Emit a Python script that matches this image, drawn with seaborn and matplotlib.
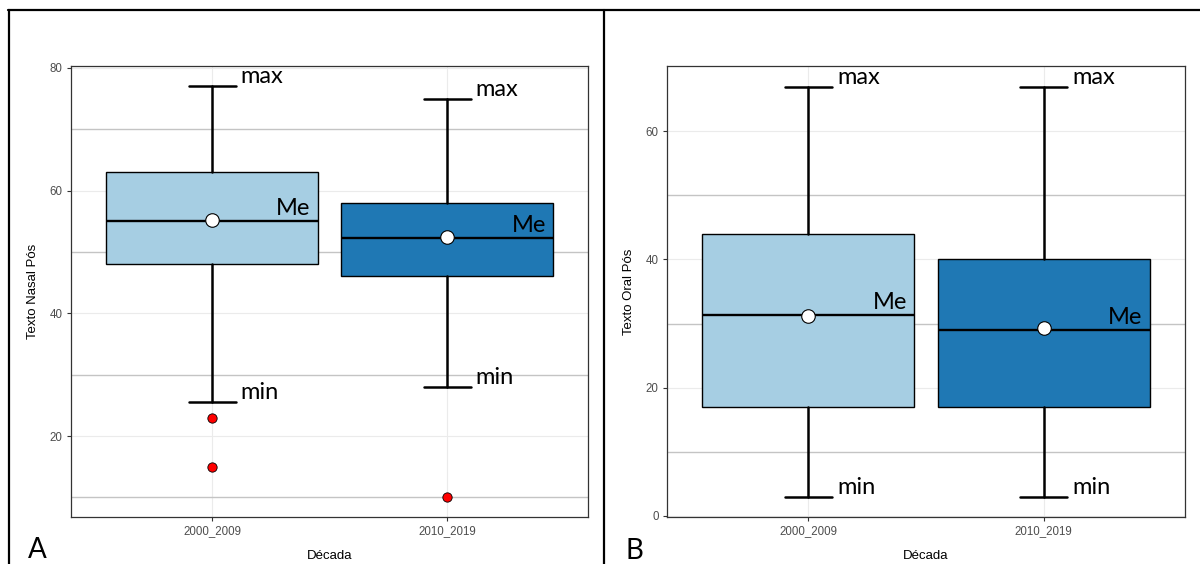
import matplotlib.pyplot as plt
import seaborn as sns
from matplotlib.lines import Line2D

decadas = ["2000_2009", "2010_2019"]
cores = ["#A6CEE3", "#1F78B4"]

# Texto Nasal Pós (painel A)
nasal_min = [25.5, 28]
nasal_q1 = [48, 46]
nasal_med = [55, 52.2]
nasal_q3 = [63, 58]
nasal_max = [77, 75]
nasal_media = [55.2, 52.5]
nasal_out_dec = ["2000_2009", "2000_2009", "2010_2019"]
nasal_out_val = [23, 15, 10]

# Texto Oral Pós (painel B)
oral_min = [3, 3]
oral_q1 = [17, 17]
oral_med = [31.4, 29]
oral_q3 = [44, 40]
oral_max = [67, 67]
oral_media = [31.2, 29.3]
oral_out_dec = []
oral_out_val = []

sns.set_theme(style="white")
plt.rcParams['font.family'] = ['Liberation Sans', 'DejaVu Sans']

W, H = 1200, 564
fig = plt.figure(figsize=(W / 100, H / 100), dpi=100)


def px_axes(x0, y0, x1, y1):
    return fig.add_axes([x0 / W, 1 - y1 / H, (x1 - x0) / W, (y1 - y0) / H])


def painel(ax, vmin, q1, med, q3, vmax, media, out_dec, out_val,
           ylabel, ylim, major, minor):
    stats = []
    for i in range(len(decadas)):
        stats.append(dict(whislo=vmin[i], q1=q1[i], med=med[i], q3=q3[i],
                          whishi=vmax[i], fliers=[]))
    bp = ax.bxp(stats, positions=range(len(decadas)), widths=0.9,
                patch_artist=True, showfliers=False, capwidths=0.2,
                boxprops=dict(edgecolor='black', linewidth=1.0),
                medianprops=dict(color='black', linewidth=1.7),
                whiskerprops=dict(color='black', linewidth=1.8),
                capprops=dict(color='black', linewidth=1.8))
    for patch, c in zip(bp['boxes'], cores):
        patch.set_facecolor(c)

    pos = list(range(len(decadas)))
    sns.scatterplot(x=pos, y=media, ax=ax, color='white', edgecolor='black',
                    s=95, linewidth=0.8, zorder=5, legend=False)
    if out_val:
        sns.scatterplot(x=[decadas.index(d) for d in out_dec], y=out_val, ax=ax,
                        color='red', edgecolor='black', s=45, linewidth=0.6,
                        zorder=5, legend=False)

    txt = dict(family=['Lato', 'DejaVu Sans'], fontsize=17, color='black')
    for i in pos:
        ax.annotate('max', (i + 0.11, vmax[i]), xytext=(3, 3),
                    textcoords='offset pixels', ha='left', va='baseline', **txt)
        ax.annotate('min', (i + 0.11, vmin[i]), xytext=(3, 3),
                    textcoords='offset pixels', ha='left', va='baseline', **txt)
        ax.annotate('Me', (i + 0.45, med[i]), xytext=(-7, 6),
                    textcoords='offset pixels', ha='right', va='baseline', **txt)

    ax.set_xlim(-0.6, 1.6)
    ax.set_ylim(*ylim)
    ax.set_xticks(pos)
    ax.set_xticklabels(decadas)
    ax.set_yticks(major)
    ax.set_yticks(minor, minor=True)
    ax.set_axisbelow(True)
    ax.grid(which='major', color='#EBEBEB', linewidth=0.8)
    ax.grid(which='minor', axis='y', color='#C4C4C4', linewidth=1.0)
    ax.tick_params(which='major', length=3, width=0.8, color='#333333',
                   labelsize=8.3, labelcolor='#4D4D4D', pad=3,
                   bottom=True, left=True)
    ax.tick_params(which='minor', length=0)
    for s in ax.spines.values():
        s.set_color('#333333')
        s.set_linewidth(0.9)
    ax.set_xlabel('Década', fontsize=9.5, color='black', labelpad=9)
    ax.set_ylabel(ylabel, fontsize=9.5, color='black', labelpad=8)


axA = px_axes(71, 66, 588, 517)
painel(axA, nasal_min, nasal_q1, nasal_med, nasal_q3, nasal_max, nasal_media,
       nasal_out_dec, nasal_out_val, 'Texto Nasal Pós', (6.8, 80.3),
       [20, 40, 60, 80], [10, 30, 50, 70])

axB = px_axes(667, 66, 1185, 517)
painel(axB, oral_min, oral_q1, oral_med, oral_q3, oral_max, oral_media,
       oral_out_dec, oral_out_val, 'Texto Oral Pós', (-0.2, 70.2),
       [0, 20, 40, 60], [10, 30, 50])

# moldura da figura composta
lw = 1.6
fig.add_artist(Line2D([8 / W, 1], [1 - 10 / H] * 2, color='black', lw=lw))
fig.add_artist(Line2D([9 / W] * 2, [0, 1 - 10 / H], color='black', lw=lw))
fig.add_artist(Line2D([604 / W] * 2, [0, 1 - 10 / H], color='black', lw=lw))

fig.text(28 / W, 1 - 558 / H, 'A', fontsize=20, family=['Lato', 'DejaVu Sans'],
         ha='left', va='baseline', color='black')
fig.text(626 / W, 1 - 559 / H, 'B', fontsize=20, family=['Lato', 'DejaVu Sans'],
         ha='left', va='baseline', color='black')

fig.savefig('out.png', dpi=100)
